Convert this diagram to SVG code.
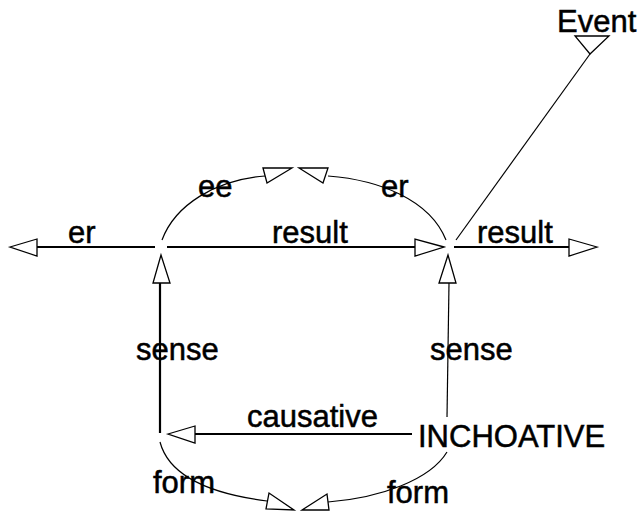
<svg xmlns="http://www.w3.org/2000/svg" width="638" height="511" viewBox="0 0 638 511">
<style>
text{font-family:"Liberation Sans",Arial,sans-serif;font-size:31px;fill:#000;stroke:#000;stroke-width:0.5}
.thick{stroke:#000;stroke-width:2.2;fill:none}
.thin{stroke:#000;stroke-width:1.2;fill:none}
.head{stroke:#000;stroke-width:1.3;fill:#fff;stroke-linejoin:miter}
</style>
<rect width="638" height="511" fill="#fff"/>
<g id="connectors">
<line class="thick" x1="155" y1="247" x2="37" y2="247"/>
<polygon class="head" points="10,247 37,239 37,256"/>
<line class="thick" x1="167" y1="247" x2="415" y2="247"/>
<polygon class="head" points="444,247 415,239 415,256"/>
<line class="thick" x1="454" y1="247" x2="569" y2="247"/>
<polygon class="head" points="597,247 569,239 569,256"/>
<line class="thin" x1="456" y1="240" x2="590" y2="54"/>
<polygon class="head" points="575,36 609,36 590,54"/>
<path class="thin" d="M162,240 C175,205 215,180 265,176"/>
<polygon class="head" points="263,168 267,183 292,168"/>
<path class="thin" d="M328,176 C380,180 430,200 446,240"/>
<polygon class="head" points="299,168 328,168 323,183"/>
<line class="thick" x1="160" y1="433" x2="160" y2="283"/>
<polygon class="head" points="161,255 153,283 170,283"/>
<line class="thin" x1="447" y1="417" x2="449" y2="283"/>
<polygon class="head" points="448,255 439,283 456,283"/>
<line class="thick" x1="412" y1="434" x2="195" y2="434"/>
<polygon class="head" points="168,434 195,426 195,443"/>
<path class="thin" d="M160,442 C170,480 220,495 267,501"/>
<polygon class="head" points="269,493 266,509 294,510"/>
<path class="thin" d="M328,502 C380,498 430,480 447,452"/>
<polygon class="head" points="302,510 327,494 329,510"/>
</g>
<g id="labels">
<text x="68" y="243">er</text>
<text x="198" y="197">ee</text>
<text x="272" y="243">result</text>
<text x="381" y="197">er</text>
<text x="477" y="243">result</text>
<text x="136" y="360">sense</text>
<text x="430" y="360">sense</text>
<text x="247" y="427">causative</text>
<text x="153" y="493">form</text>
<text x="387" y="503">form</text>
</g>
<g id="node-event"><text x="557" y="32">Event</text></g>
<g id="node-inchoative"><text x="418" y="447">INCHOATIVE</text></g>
</svg>
